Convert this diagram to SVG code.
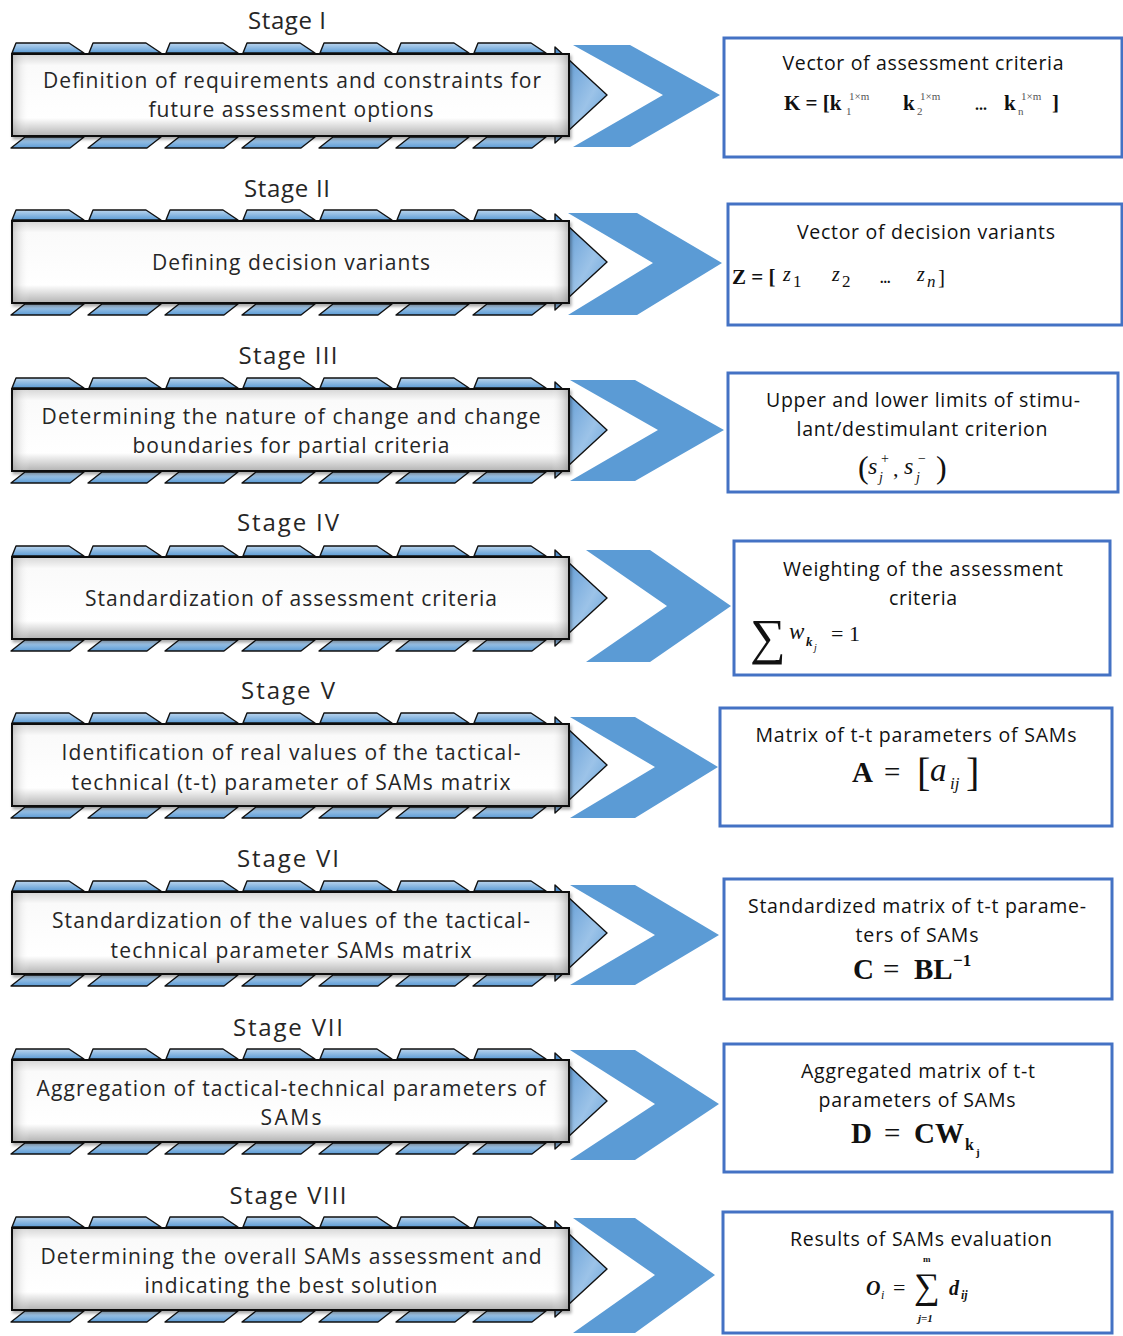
<svg xmlns="http://www.w3.org/2000/svg" xmlns:xlink="http://www.w3.org/1999/xlink" width="1123" height="1336" viewBox="0 0 1123 1336">
<style>
.lbl{font-family:"Open Sans","Liberation Sans",sans-serif;font-size:24px;fill:#262626;text-anchor:middle}
.bt{font-family:"Open Sans","Liberation Sans",sans-serif;font-size:21px;fill:#262626;text-anchor:middle}
.rt{font-family:"Open Sans","Liberation Sans",sans-serif;font-size:19.5px;fill:#111;text-anchor:middle}
.rbox{fill:#fff;stroke:#4472C4;stroke-width:3}
.chev{fill:#5B9BD5}
.seg{fill:url(#segGrad);stroke:#111;stroke-width:1.4;stroke-linejoin:round}
.fm{font-family:"Liberation Serif","DejaVu Serif",serif;fill:#111}
.b{font-weight:bold}
.i{font-style:italic}
.sm{font-size:11px;fill:#555}
</style>
<defs>
<linearGradient id="segGrad" x1="0" y1="0" x2="0" y2="1">
<stop offset="0" stop-color="#bcd6ee"/>
<stop offset="1" stop-color="#5b9bd5"/>
</linearGradient>
<linearGradient id="tipGrad" x1="0" y1="0" x2="1" y2="1">
<stop offset="0" stop-color="#4f8fcf"/>
<stop offset="0.6" stop-color="#9cc3e8"/>
<stop offset="1" stop-color="#5b9bd5"/>
</linearGradient>
<linearGradient id="boxGrad" x1="0" y1="0" x2="0" y2="1">
<stop offset="0" stop-color="#d6d6d6"/>
<stop offset="0.14" stop-color="#fafafa"/>
<stop offset="0.78" stop-color="#ffffff"/>
<stop offset="1" stop-color="#b3b3b3"/>
</linearGradient>
<linearGradient id="boxSide" x1="0" y1="0" x2="1" y2="0">
<stop offset="0" stop-color="#9a9a9a" stop-opacity="0.45"/>
<stop offset="0.03" stop-color="#ffffff" stop-opacity="0"/>
<stop offset="0.97" stop-color="#ffffff" stop-opacity="0"/>
<stop offset="1" stop-color="#8a8a8a" stop-opacity="0.5"/>
</linearGradient>
<filter id="shadow" x="-5%" y="-20%" width="110%" height="150%">
<feDropShadow dx="1.5" dy="2.5" stdDeviation="1.5" flood-color="#000" flood-opacity="0.35"/>
</filter>
<g id="stageShape">
<polygon points="555,47 607,95 555,143" fill="url(#tipGrad)" stroke="#111" stroke-width="1.4" stroke-linejoin="round"/>
<g class="seg">
<polygon points="12,53 16,43 69,43 84,53"/>
<polygon points="89,53 93,43 146,43 161,53"/>
<polygon points="166,53 170,43 223,43 238,53"/>
<polygon points="243,53 247,43 300,43 315,53"/>
<polygon points="320,53 324,43 377,43 392,53"/>
<polygon points="397,53 401,43 454,43 469,53"/>
<polygon points="474,53 478,43 531,43 546,53"/>
<polygon points="11,148 25,137 84,137 70,148"/>
<polygon points="88,148 102,137 161,137 147,148"/>
<polygon points="165,148 179,137 238,137 224,148"/>
<polygon points="242,148 256,137 315,137 301,148"/>
<polygon points="319,148 333,137 392,137 378,148"/>
<polygon points="396,148 410,137 469,137 455,148"/>
<polygon points="473,148 487,137 546,137 532,148"/>
</g>
<rect x="12" y="54" width="557" height="82" fill="url(#boxGrad)" stroke="#111" stroke-width="2" filter="url(#shadow)"/>
<rect x="13" y="55" width="555" height="80" fill="url(#boxSide)"/>
</g>
</defs>
<rect width="1123" height="1336" fill="#fff"/>

<g id="connectors">
<polygon class="chev" points="573,45 630,45 720,95 630,147 573,147 663,95"/>
<polygon class="chev" points="568,213 637,213 722,263 637,315 568,315 653,263"/>
<polygon class="chev" points="570,380 635,380 724,430 635,481 570,481 658,430"/>
<polygon class="chev" points="586,550 650,550 731,606 650,662 586,662 667,606"/>
<polygon class="chev" points="570,717 635,717 718,767 635,818 570,818 655,767"/>
<polygon class="chev" points="570,885 635,885 719,935 635,985 570,985 655,935"/>
<polygon class="chev" points="570,1050 635,1050 719,1104 635,1160 570,1160 655,1104"/>
<polygon class="chev" points="573,1218 635,1218 715,1275 635,1333 573,1333 655,1275"/>
</g>

<g id="stage1">
<text class="lbl" x="287" y="29" textLength="78" lengthAdjust="spacing">Stage I</text>
<use xlink:href="#stageShape" href="#stageShape"/>
<text class="bt" x="292" y="88" textLength="498" lengthAdjust="spacing">Definition of requirements and constraints for</text>
<text class="bt" x="291" y="117" textLength="285" lengthAdjust="spacing">future assessment options</text>
</g>
<g id="stage2">
<text class="lbl" x="287" y="197" textLength="86" lengthAdjust="spacing">Stage II</text>
<use xlink:href="#stageShape" href="#stageShape" y="167"/>
<text class="bt" x="291" y="270" textLength="278" lengthAdjust="spacing">Defining decision variants</text>
</g>
<g id="stage3">
<text class="lbl" x="288" y="364" textLength="99" lengthAdjust="spacing">Stage III</text>
<use xlink:href="#stageShape" href="#stageShape" y="335"/>
<text class="bt" x="291" y="424" textLength="499" lengthAdjust="spacing">Determining the nature of change and change</text>
<text class="bt" x="291" y="453" textLength="317" lengthAdjust="spacing">boundaries for partial criteria</text>
</g>
<g id="stage4">
<text class="lbl" x="288" y="531" textLength="102" lengthAdjust="spacing">Stage IV</text>
<use xlink:href="#stageShape" href="#stageShape" y="503"/>
<text class="bt" x="291" y="606" textLength="412" lengthAdjust="spacing">Standardization of assessment criteria</text>
</g>
<g id="stage5">
<text class="lbl" x="288" y="699" textLength="94" lengthAdjust="spacing">Stage V</text>
<use xlink:href="#stageShape" href="#stageShape" y="670"/>
<text class="bt" x="291" y="760" textLength="459" lengthAdjust="spacing">Identification of real values of the tactical-</text>
<text class="bt" x="291" y="790" textLength="439" lengthAdjust="spacing">technical (t-t) parameter of SAMs matrix</text>
</g>
<g id="stage6">
<text class="lbl" x="288" y="867" textLength="102" lengthAdjust="spacing">Stage VI</text>
<use xlink:href="#stageShape" href="#stageShape" y="838"/>
<text class="bt" x="291" y="928" textLength="478" lengthAdjust="spacing">Standardization of the values of the tactical-</text>
<text class="bt" x="291" y="958" textLength="361" lengthAdjust="spacing">technical parameter SAMs matrix</text>
</g>
<g id="stage7">
<text class="lbl" x="288" y="1036" textLength="110" lengthAdjust="spacing">Stage VII</text>
<use xlink:href="#stageShape" href="#stageShape" y="1006"/>
<text class="bt" x="291" y="1096" textLength="509" lengthAdjust="spacing">Aggregation of tactical-technical parameters of</text>
<text class="bt" x="291" y="1125" textLength="61" lengthAdjust="spacing">SAMs</text>
</g>
<g id="stage8">
<text class="lbl" x="288" y="1204" textLength="117" lengthAdjust="spacing">Stage VIII</text>
<use xlink:href="#stageShape" href="#stageShape" y="1174"/>
<text class="bt" x="291" y="1264" textLength="501" lengthAdjust="spacing">Determining the overall SAMs assessment and</text>
<text class="bt" x="291" y="1293" textLength="293" lengthAdjust="spacing">indicating the best solution</text>
</g>

<g id="result1">
<rect class="rbox" x="724" y="38" width="398" height="119"/>
<text class="rt" x="923" y="70" textLength="281" lengthAdjust="spacing">Vector of assessment criteria</text>
<text class="fm b" font-size="21" x="784" y="110">K = [k</text>
<text class="fm sm" x="849" y="100">1×m</text>
<text class="fm sm" x="846" y="115">1</text>
<text class="fm b" font-size="21" x="903" y="110">k</text>
<text class="fm sm" x="920" y="100">1×m</text>
<text class="fm sm" x="917" y="115">2</text>
<text class="fm b" font-size="16" x="975" y="110">...</text>
<text class="fm b" font-size="21" x="1004" y="110">k</text>
<text class="fm sm" x="1021" y="100">1×m</text>
<text class="fm sm" x="1018" y="115">n</text>
<text class="fm b" font-size="21" x="1052" y="110">]</text>
</g>
<g id="result2">
<rect class="rbox" x="728" y="204" width="394" height="121"/>
<text class="rt" x="926" y="239" textLength="258" lengthAdjust="spacing">Vector of decision variants</text>
<text class="fm b" font-size="21" x="732" y="284">Z = [</text>
<text class="fm i" font-size="20" x="783" y="281">z</text>
<text class="fm" font-size="17" x="793" y="287">1</text>
<text class="fm i" font-size="20" x="832" y="281">z</text>
<text class="fm" font-size="17" x="842" y="287">2</text>
<text class="fm b" font-size="14" x="880" y="283">...</text>
<text class="fm i" font-size="20" x="917" y="281">z</text>
<text class="fm i" font-size="17" x="927" y="287">n</text>
<text class="fm" font-size="21" x="938" y="284">]</text>
</g>
<g id="result3">
<rect class="rbox" x="728" y="373" width="390" height="119"/>
<text class="rt" x="923" y="407" textLength="314" lengthAdjust="spacing">Upper and lower limits of stimu-</text>
<text class="rt" x="922" y="436" textLength="251" lengthAdjust="spacing">lant/destimulant criterion</text>
<text class="fm" font-size="32" x="858" y="478">(</text>
<text class="fm i" font-size="24" x="868" y="474">s</text>
<text class="fm" font-size="14" x="881" y="463">+</text>
<text class="fm i" font-size="14" x="879" y="482">j</text>
<text class="fm" font-size="22" x="893" y="476">,</text>
<text class="fm i" font-size="24" x="904" y="474">s</text>
<text class="fm" font-size="14" x="918" y="463">−</text>
<text class="fm i" font-size="14" x="916" y="482">j</text>
<text class="fm" font-size="32" x="936" y="478">)</text>
</g>
<g id="result4">
<rect class="rbox" x="734" y="541" width="376" height="134"/>
<text class="rt" x="923" y="576" textLength="280" lengthAdjust="spacing">Weighting of the assessment</text>
<text class="rt" x="923" y="605" textLength="68" lengthAdjust="spacing">criteria</text>
<text class="fm" font-size="50" x="750" y="654">∑</text>
<text class="fm i" font-size="23" x="789" y="639">w</text>
<text class="fm i b" font-size="13" x="806" y="646">k</text>
<text class="fm i" font-size="10" x="814" y="651">j</text>
<text class="fm" font-size="22" x="831" y="641">= 1</text>
</g>
<g id="result5">
<rect class="rbox" x="720" y="708" width="392" height="118"/>
<text class="rt" x="916" y="742" textLength="321" lengthAdjust="spacing">Matrix of t-t parameters of SAMs</text>
<text class="fm b" font-size="29" x="852" y="782">A</text>
<text class="fm" font-size="29" x="884" y="782">=</text>
<text class="fm" font-size="40" x="917" y="786">[</text>
<text class="fm i" font-size="33" x="930" y="781">a</text>
<text class="fm i" font-size="17" x="950" y="789">ij</text>
<text class="fm" font-size="40" x="966" y="786">]</text>
</g>
<g id="result6">
<rect class="rbox" x="724" y="879" width="388" height="120"/>
<text class="rt" x="917" y="913" textLength="338" lengthAdjust="spacing">Standardized matrix of t-t parame-</text>
<text class="rt" x="917" y="942" textLength="123" lengthAdjust="spacing">ters of SAMs</text>
<text class="fm b" font-size="29" x="853" y="979">C</text>
<text class="fm" font-size="29" x="883" y="979">=</text>
<text class="fm b" font-size="29" x="914" y="979">BL</text>
<text class="fm b" font-size="17" x="953" y="966">−1</text>
</g>
<g id="result7">
<rect class="rbox" x="724" y="1044" width="388" height="128"/>
<text class="rt" x="918" y="1078" textLength="234" lengthAdjust="spacing">Aggregated matrix of t-t</text>
<text class="rt" x="917" y="1107" textLength="197" lengthAdjust="spacing">parameters of SAMs</text>
<text class="fm b" font-size="29" x="851" y="1143">D</text>
<text class="fm" font-size="29" x="884" y="1143">=</text>
<text class="fm b" font-size="29" x="914" y="1143">CW</text>
<text class="fm b" font-size="16" x="965" y="1150">k</text>
<text class="fm b" font-size="11" x="976" y="1156">j</text>
</g>
<g id="result8">
<rect class="rbox" x="723" y="1212" width="389" height="121"/>
<text class="rt" x="921" y="1246" textLength="262" lengthAdjust="spacing">Results of SAMs evaluation</text>
<text class="fm b i" font-size="20" x="866" y="1295">O</text>
<text class="fm i" font-size="12" x="881" y="1299">i</text>
<text class="fm" font-size="22" x="893" y="1295">=</text>
<text class="fm" font-size="36" x="914" y="1298">∑</text>
<text class="fm b" font-size="9" x="923" y="1262">m</text>
<text class="fm b i" font-size="11" x="918" y="1322">j=1</text>
<text class="fm b i" font-size="20" x="949" y="1295">d</text>
<text class="fm b i" font-size="12" x="961" y="1299">ij</text>
</g>
</svg>
